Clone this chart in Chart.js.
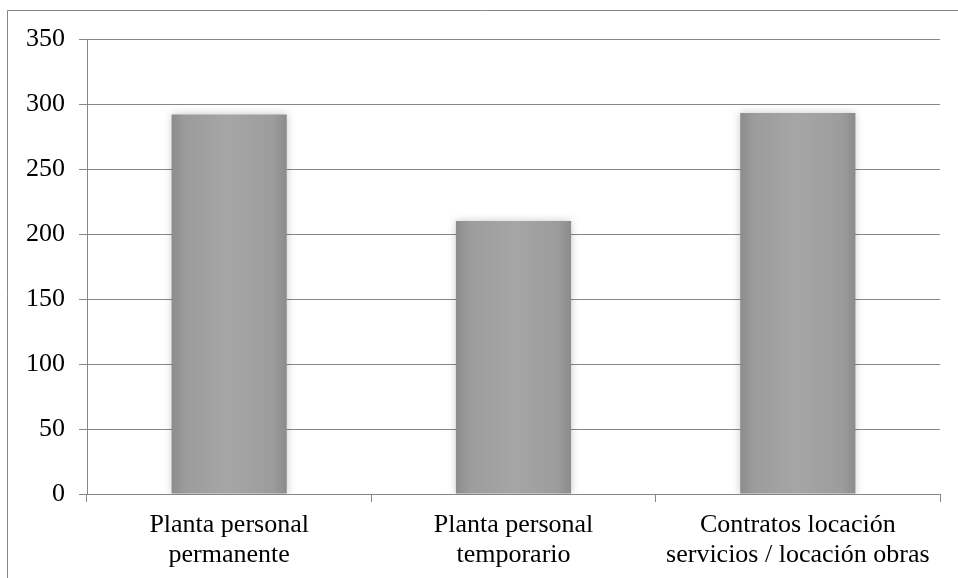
<!DOCTYPE html>
<html>
<head>
<meta charset="utf-8">
<script src="https://cdn.jsdelivr.net/npm/chart.js@4/dist/chart.umd.min.js"></script>
<style>
html,body{margin:0;padding:0;background:#fff;}
#wrap{width:958px;height:578px;position:relative;}
</style>
</head>
<body>
<div id="wrap"><canvas id="c" width="958" height="578"></canvas></div>
<script>
const categories = [["Planta personal","permanente"],["Planta personal","temporario"],["Contratos locación","servicios / locación obras"]];
const values = [292, 210, 293];
const yTicks = {min:0, max:350, step:50};

const BAR_PCT = 0.405;
function barFill(c){
  const chart = c.chart;
  const area = chart.chartArea;
  if(!area) return '#a0a0a0';
  const xs = chart.scales.x;
  const cx = xs.getPixelForValue(c.dataIndex);
  const w = (area.width/categories.length)*BAR_PCT;
  const g = chart.ctx.createLinearGradient(cx-w/2,0,cx+w/2,0);
  g.addColorStop(0,'#8c8c8c');
  g.addColorStop(0.12,'#9c9c9c');
  g.addColorStop(0.5,'#a6a6a6');
  g.addColorStop(0.88,'#9c9c9c');
  g.addColorStop(1,'#8c8c8c');
  return g;
}

const framePlugin = {
  id:'frame',
  beforeDraw(chart){
    const ctx = chart.ctx;
    ctx.save();
    ctx.strokeStyle='#868686';
    ctx.lineWidth=1;
    ctx.beginPath();
    ctx.moveTo(7.5,578);
    ctx.lineTo(7.5,10.5);
    ctx.lineTo(958,10.5);
    ctx.stroke();
    ctx.restore();
  },
  beforeDatasetsDraw(chart){
    const ctx = chart.ctx;
    ctx.save();
    ctx.shadowColor='rgba(0,0,0,0.22)';
    ctx.shadowBlur=8;
  },
  afterDatasetsDraw(chart){
    chart.ctx.restore();
  }
};

const FONT = '"Liberation Serif", "Times New Roman", serif';
new Chart(document.getElementById('c'),{
  type:'bar',
  data:{
    labels:categories,
    datasets:[{data:values, backgroundColor:barFill, borderWidth:0, barPercentage:BAR_PCT, categoryPercentage:1}]
  },
  options:{
    responsive:false,
    animation:false,
    devicePixelRatio:1,
    layout:{padding:{top:39,right:18,left:0,bottom:0}},
    plugins:{legend:{display:false},tooltip:{enabled:false}},
    scales:{
      x:{
        afterFit(s){ s.height = 84; },
        grid:{drawOnChartArea:false, color:'#868686', tickLength:8, offset:true},
        border:{color:'#868686'},
        ticks:{color:'#000', font:{family:FONT, size:26, lineHeight:1.15}, padding:8, maxRotation:0, autoSkip:false}
      },
      y:{
        min:yTicks.min, max:yTicks.max,
        afterFit(s){ s.width = 87; },
        grid:{color:'#868686', tickLength:8},
        border:{color:'#868686'},
        ticks:{stepSize:yTicks.step, color:'#000', font:{family:FONT, size:26}, padding:14}
      }
    }
  },
  plugins:[framePlugin]
});
</script>
</body>
</html>
